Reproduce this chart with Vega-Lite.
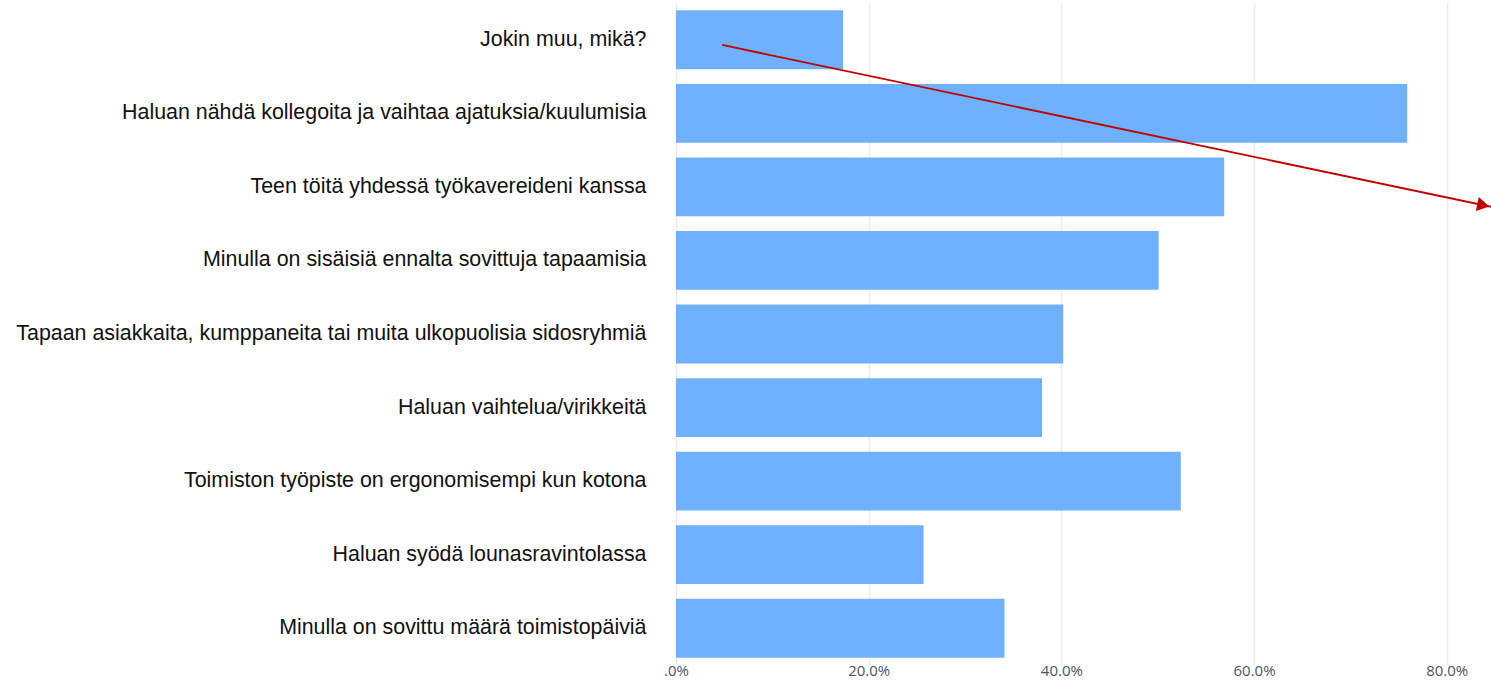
{
  "$schema": "https://vega.github.io/schema/vega-lite/v6.json",
  "autosize": {"type": "none"},
  "padding": {"left": 676, "top": 3, "right": 0, "bottom": 15},
  "width": 815,
  "height": 662,
  "background": "white",
  "datasets": {
    "bars": [
      {"reason": "Jokin muu, mikä?", "share": 0.1735},
      {"reason": "Haluan nähdä kollegoita ja vaihtaa ajatuksia/kuulumisia", "share": 0.759},
      {"reason": "Teen töitä yhdessä työkavereideni kanssa", "share": 0.569},
      {"reason": "Minulla on sisäisiä ennalta sovittuja tapaamisia", "share": 0.501},
      {"reason": "Tapaan asiakkaita, kumppaneita tai muita ulkopuolisia sidosryhmiä", "share": 0.402},
      {"reason": "Haluan vaihtelua/virikkeitä", "share": 0.38},
      {"reason": "Toimiston työpiste on ergonomisempi kun kotona", "share": 0.524},
      {"reason": "Haluan syödä lounasravintolassa", "share": 0.257},
      {"reason": "Minulla on sovittu määrä toimistopäiviä", "share": 0.341}
    ],
    "arrow": [
      {"x1": 0.048, "x2": 0.846, "y1": 0.07, "y2": 2.27, "hx": 0.838, "hy": 2.25}
    ]
  },
  "layer": [
    {
      "data": {"name": "bars"},
      "mark": {"type": "bar", "color": "#6fb0ff"},
      "encoding": {
        "y": {
          "field": "reason",
          "type": "nominal",
          "sort": null,
          "scale": {"paddingInner": 0.2, "paddingOuter": 0.1},
          "axis": {
            "title": null,
            "domain": false,
            "ticks": false,
            "labelPadding": 30,
            "labelLimit": 700,
            "labelFont": "Liberation Sans",
            "labelFontSize": 21.4,
            "labelColor": "#111111"
          }
        },
        "x": {
          "field": "share",
          "type": "quantitative",
          "scale": {"domain": [0, 0.846], "nice": false},
          "axis": {
            "title": null,
            "values": [0, 0.2, 0.4, 0.6, 0.8],
            "format": ".1%",
            "labelExpr": "datum.value == 0 ? '.0%' : datum.label",
            "labelFlush": false,
            "domain": false,
            "ticks": false,
            "grid": true,
            "gridColor": "#e9ebee",
            "gridWidth": 1.5,
            "labelFont": "Open Sans",
            "labelFontSize": 15,
            "labelColor": "#4b5563",
            "labelPadding": -2,
            "labelBaseline": "top"
          }
        }
      }
    },
    {
      "data": {"name": "arrow"},
      "mark": {"type": "rule", "color": "#c00000", "strokeWidth": 1.8},
      "encoding": {
        "x": {"field": "x1", "type": "quantitative"},
        "x2": {"field": "x2"},
        "y": {"field": "y1", "type": "quantitative", "scale": {"domain": [-0.5, 8.5], "reverse": true, "nice": false, "zero": false}, "axis": null},
        "y2": {"field": "y2"}
      }
    },
    {
      "data": {"name": "arrow"},
      "mark": {"type": "point", "shape": "triangle-right", "filled": true, "opacity": 1, "color": "#c00000", "size": 200, "angle": 12},
      "encoding": {
        "x": {"field": "hx", "type": "quantitative"},
        "y": {"field": "hy", "type": "quantitative", "scale": {"domain": [-0.5, 8.5], "reverse": true, "nice": false, "zero": false}, "axis": null}
      }
    }
  ],
  "resolve": {"scale": {"y": "independent"}},
  "config": {"view": {"stroke": null}}
}
